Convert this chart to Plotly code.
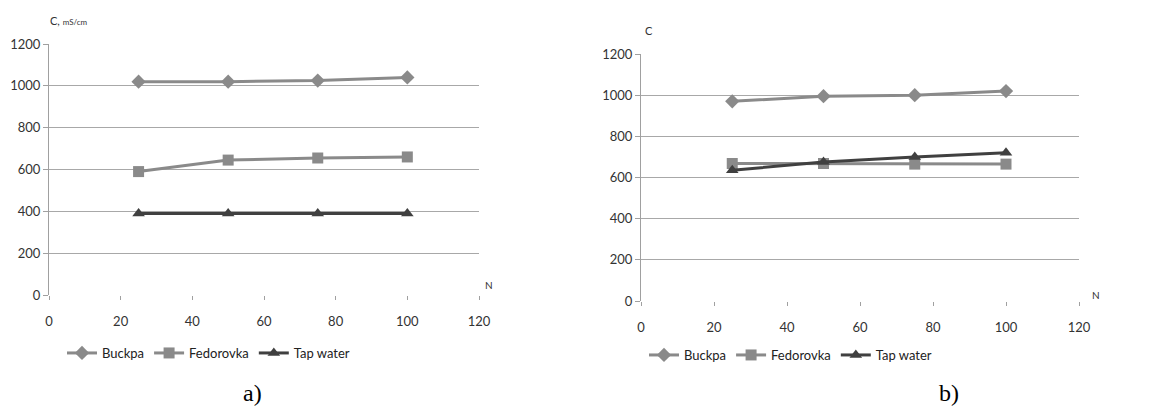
import plotly.graph_objects as go

N = [25, 50, 75, 100]
series_names = ["Buckpa", "Fedorovka", "Tap water"]
a_buckpa = [1020, 1020, 1025, 1040]
a_fedorovka = [590, 645, 655, 660]
a_tap = [390, 390, 390, 390]
b_buckpa = [970, 995, 1000, 1020]
b_fedorovka = [668, 668, 665, 665]
b_tap = [635, 675, 700, 720]
x_ticks = [0, 20, 40, 60, 80, 100, 120]
y_ticks = [0, 200, 400, 600, 800, 1000, 1200]

colors = ["#8a8a8a", "#8a8a8a", "#404040"]
symbols = ["diamond", "square", "triangle-up"]
sizes = [11, 11, 11]

FONT = "Lato, Liberation Sans, sans-serif"
fig = go.Figure()

for panel, data, xa, ya, lg in [
    ("a", [a_buckpa, a_fedorovka, a_tap], "x", "y", "legend"),
    ("b", [b_buckpa, b_fedorovka, b_tap], "x2", "y2", "legend2"),
]:
    for i, vals in enumerate(data):
        fig.add_trace(go.Scatter(
            x=N, y=vals, mode="lines+markers", name=series_names[i],
            line=dict(color=colors[i], width=3),
            marker=dict(symbol=symbols[i], size=sizes[i], color=colors[i]),
            xaxis=xa, yaxis=ya, legend=lg, cliponaxis=False,
        ))

axis_common_x = dict(range=[0, 120], tickvals=x_ticks, showgrid=False, zeroline=False,
                     showline=False, ticks="outside", ticklen=4, tickcolor="#a0a0a0",
                     tickfont=dict(family=FONT, size=13, color="#333333"), ticklabelstandoff=10)
axis_common_y = dict(range=[0, 1200], tickvals=y_ticks, showgrid=True, gridcolor="#a8a8a8",
                     gridwidth=1, zeroline=False, showline=True, linecolor="#a0a0a0",
                     ticks="outside", ticklen=5, tickcolor="#a0a0a0",
                     tickfont=dict(family=FONT, size=13, color="#333333"))

fig.update_layout(
    width=1175, height=415, margin=dict(l=0, r=0, t=0, b=0, autoexpand=False),
    paper_bgcolor="white", plot_bgcolor="white",
    xaxis=dict(domain=[49/1175, 479/1175], anchor="y", **axis_common_x),
    yaxis=dict(domain=[120/415, 371/415], anchor="x", **axis_common_y),
    xaxis2=dict(domain=[641/1175, 1079/1175], anchor="y2", **axis_common_x),
    yaxis2=dict(domain=[114/415, 361/415], anchor="x2", **axis_common_y),
    legend=dict(orientation="h", x=62/1175, y=(415-353)/415, xanchor="left", yanchor="middle",
                font=dict(family=FONT, size=13, color="#222222"), itemwidth=30,
                bgcolor="rgba(0,0,0,0)"),
    legend2=dict(orientation="h", x=644/1175, y=(415-355)/415, xanchor="left", yanchor="middle",
                 font=dict(family=FONT, size=13, color="#222222"), itemwidth=30,
                 bgcolor="rgba(0,0,0,0)"),
    showlegend=True,
)

annots = [
    dict(text="C, <span style='font-size:8px'>mS/cm</span>", x=48/1175, y=(415-20)/415,
         xanchor="left", yanchor="middle", font=dict(family=FONT, size=11, color="#333333")),
    dict(text="N", x=489/1175, y=(415-285)/415, xanchor="center", yanchor="middle",
         font=dict(family=FONT, size=10, color="#333333")),
    dict(text="C", x=643/1175, y=(415-30)/415, xanchor="left", yanchor="middle",
         font=dict(family=FONT, size=11, color="#333333")),
    dict(text="N", x=1096/1175, y=(415-295)/415, xanchor="center", yanchor="middle",
         font=dict(family=FONT, size=10, color="#333333")),
    dict(text="a)", x=252/1175, y=(415-393)/415, xanchor="center", yanchor="middle",
         font=dict(family="Liberation Serif, serif", size=24, color="#000000")),
    dict(text="b)", x=949/1175, y=(415-393)/415, xanchor="center", yanchor="middle",
         font=dict(family="Liberation Serif, serif", size=24, color="#000000")),
]
for a in annots:
    fig.add_annotation(xref="paper", yref="paper", showarrow=False, **a)

fig.write_html("out.html", config={"displayModeBar": False},
               post_script="document.body.style.margin='0';document.body.style.overflow='hidden';")
